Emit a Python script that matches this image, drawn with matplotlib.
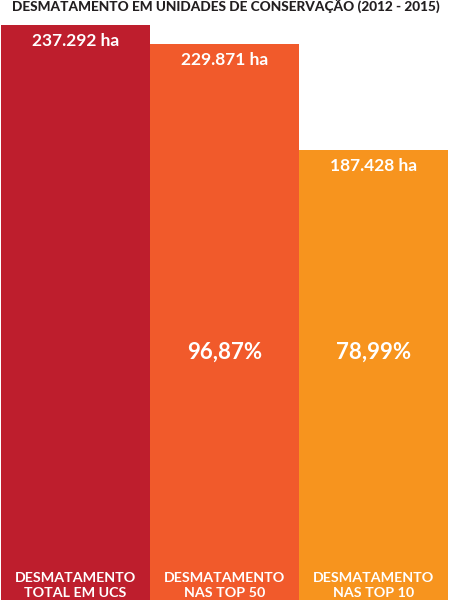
import matplotlib
matplotlib.use("Agg")
import matplotlib.pyplot as plt
from matplotlib.transforms import blended_transform_factory, offset_copy

categories = ["DESMATAMENTO\nTOTAL EM UCS", "DESMATAMENTO\nNAS TOP 50", "DESMATAMENTO\nNAS TOP 10"]
values = [237292, 229871, 187428]
value_labels = ["237.292 ha", "229.871 ha", "187.428 ha"]
pct_labels = ["", "96,87%", "78,99%"]
colors = ["#BE1E2D", "#F15A2B", "#F7941E"]
title = "DESMATAMENTO EM UNIDADES DE CONSERVAÇÃO (2012 - 2015)"

W, H, DPI = 451, 600, 100
fig = plt.figure(figsize=(W / DPI, H / DPI), dpi=DPI)
ax = fig.add_axes([0, 0, 1, 1])
FONT = "Lato"

x = list(range(len(values)))
ax.bar(x, values, width=0.995, color=colors, linewidth=0)
ax.set_xlim(-0.5 - 1 / 149.5, 2.5 + 3 / 149.5)
# baseline sits below the visible frame (cropped image)
ax.set_ylim((620 - 600) / 0.0025068, 620 / 0.0025068)
ax.axis("off")

for xi, v, lab in zip(x, values, value_labels):
    tr = offset_copy(ax.transData, fig=fig, x=0, y=-16, units="dots")
    ax.text(xi, v, lab, transform=tr, ha="center", va="center", color="white",
            fontsize=12.5, fontweight="bold", family=FONT)

bt = blended_transform_factory(ax.transData, ax.transAxes)
for xi, p in zip(x, pct_labels):
    if p:
        ax.text(xi, 1 - 352 / H, p, transform=bt, ha="center", va="center", color="white",
                fontsize=16, fontweight="bold", family=FONT)

for xi, c in zip(x, categories):
    l1, l2 = c.split("\n")
    ax.text(xi, 1 - 578 / H, l1, transform=bt, ha="center", va="center", color="white",
            fontsize=10.3, fontweight="bold", family=FONT)
    ax.text(xi, 1 - 593 / H, l2, transform=bt, ha="center", va="center", color="white",
            fontsize=10.3, fontweight="bold", family=FONT)

fig.text(0.5, 1 - 11 / H, title, ha="center", va="baseline", color="#231F20",
         fontsize=9.8, fontweight="black", family=FONT)

fig.savefig("out.png", dpi=DPI)
